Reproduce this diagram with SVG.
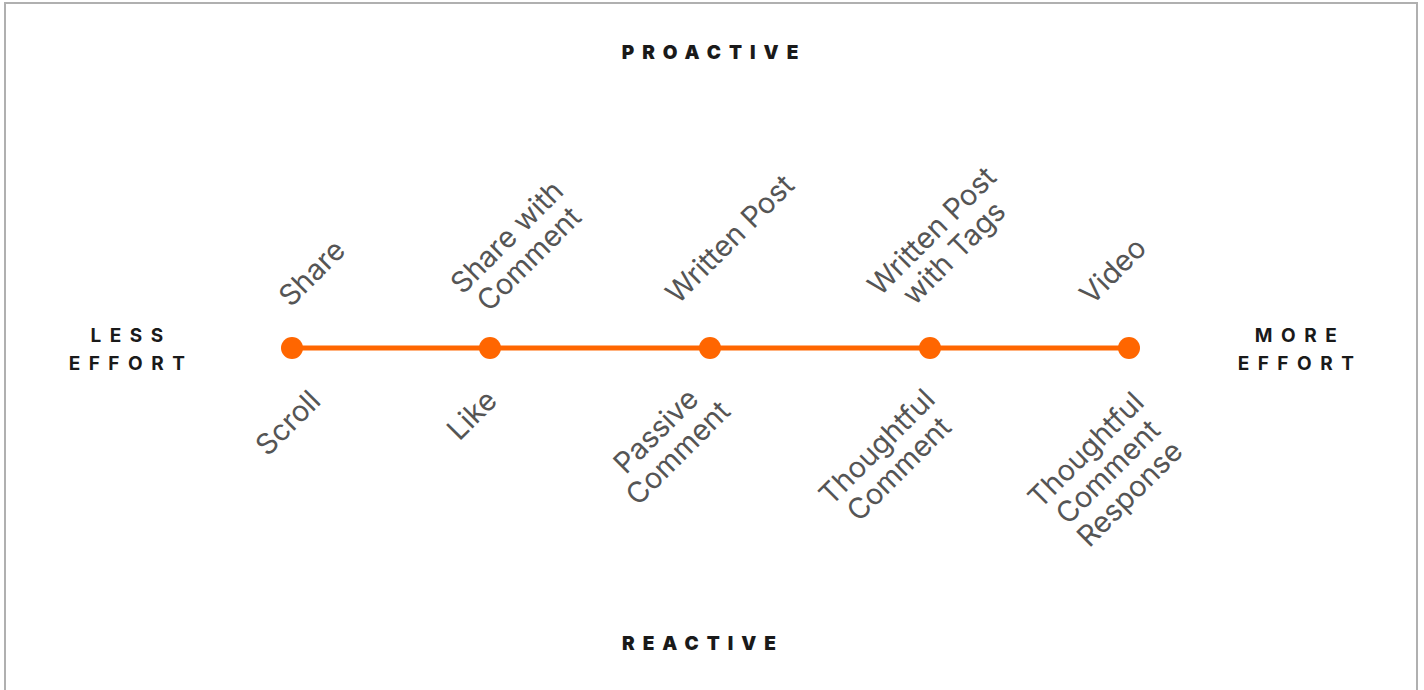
<svg xmlns="http://www.w3.org/2000/svg" width="1424" height="690" viewBox="0 0 1424 690">
  <style>
    .frame { fill: #ffffff; stroke: #b0b0b0; stroke-width: 2; }
    .axis { stroke: #ff6600; stroke-width: 5; }
    .dot { fill: #ff6600; }
    .head { font-family: Inter, "Liberation Sans", sans-serif; font-weight: 900; font-size: 19px; fill: #1a1a1a; letter-spacing: 8px; text-anchor: middle; }
    .side { font-family: Inter, "Liberation Sans", sans-serif; font-weight: 700; font-size: 19px; fill: #1a1a1a; letter-spacing: 8.5px; text-anchor: middle; }
    .lbl { font-family: Inter, "Liberation Sans", sans-serif; font-weight: 400; font-size: 29px; fill: #555555; text-anchor: middle; }
  </style>

  <rect class="frame" x="5" y="3" width="1412" height="700"/>

  <!-- axis headings -->
  <g id="proactive"><text class="head" x="714" y="59">PROACTIVE</text></g>
  <g id="reactive"><text class="head" x="703" y="650">REACTIVE</text></g>
  <g id="less-effort"><text class="side" x="131" y="342">LESS</text><text class="side" x="131" y="370">EFFORT</text></g>
  <g id="more-effort"><text class="side" x="1300" y="342">MORE</text><text class="side" x="1300" y="370">EFFORT</text></g>

  <!-- effort scale -->
  <g id="connectors">
    <line class="axis" x1="292" y1="348" x2="1129" y2="348"/>
  </g>
  <g id="step-1"><circle class="dot" cx="292" cy="348" r="11"/></g>
  <g id="step-2"><circle class="dot" cx="490" cy="348" r="11"/></g>
  <g id="step-3"><circle class="dot" cx="710" cy="348" r="11"/></g>
  <g id="step-4"><circle class="dot" cx="930" cy="348" r="11"/></g>
  <g id="step-5"><circle class="dot" cx="1129" cy="348" r="11"/></g>

  <!-- proactive actions -->
  <g id="share"><text class="lbl" transform="translate(319,280) rotate(-45)">Share</text></g>
  <g id="share-with-comment"><text class="lbl" transform="translate(514,244) rotate(-45)"><tspan x="0">Share with</tspan><tspan x="0" dy="31">Comment</tspan></text></g>
  <g id="written-post"><text class="lbl" transform="translate(737,246) rotate(-45)">Written Post</text></g>
  <g id="written-post-tags"><text class="lbl" transform="translate(939,238) rotate(-45)"><tspan x="0">Written Post</tspan><tspan x="0" dy="31">with Tags</tspan></text></g>
  <g id="video"><text class="lbl" transform="translate(1120,278) rotate(-45)">Video</text></g>

  <!-- reactive actions -->
  <g id="scroll"><text class="lbl" transform="translate(295,430) rotate(-45)">Scroll</text></g>
  <g id="like"><text class="lbl" transform="translate(479,422) rotate(-45)">Like</text></g>
  <g id="passive-comment"><text class="lbl" transform="translate(663,438) rotate(-45)"><tspan x="0">Passive</tspan><tspan x="0" dy="31">Comment</tspan></text></g>
  <g id="thoughtful-comment"><text class="lbl" transform="translate(884,454) rotate(-45)"><tspan x="0">Thoughtful</tspan><tspan x="0" dy="31">Comment</tspan></text></g>
  <g id="thoughtful-comment-response"><text class="lbl" transform="translate(1093,457) rotate(-45)"><tspan x="0">Thoughtful</tspan><tspan x="0" dy="31">Comment</tspan><tspan x="0" dy="31">Response</tspan></text></g>
</svg>
